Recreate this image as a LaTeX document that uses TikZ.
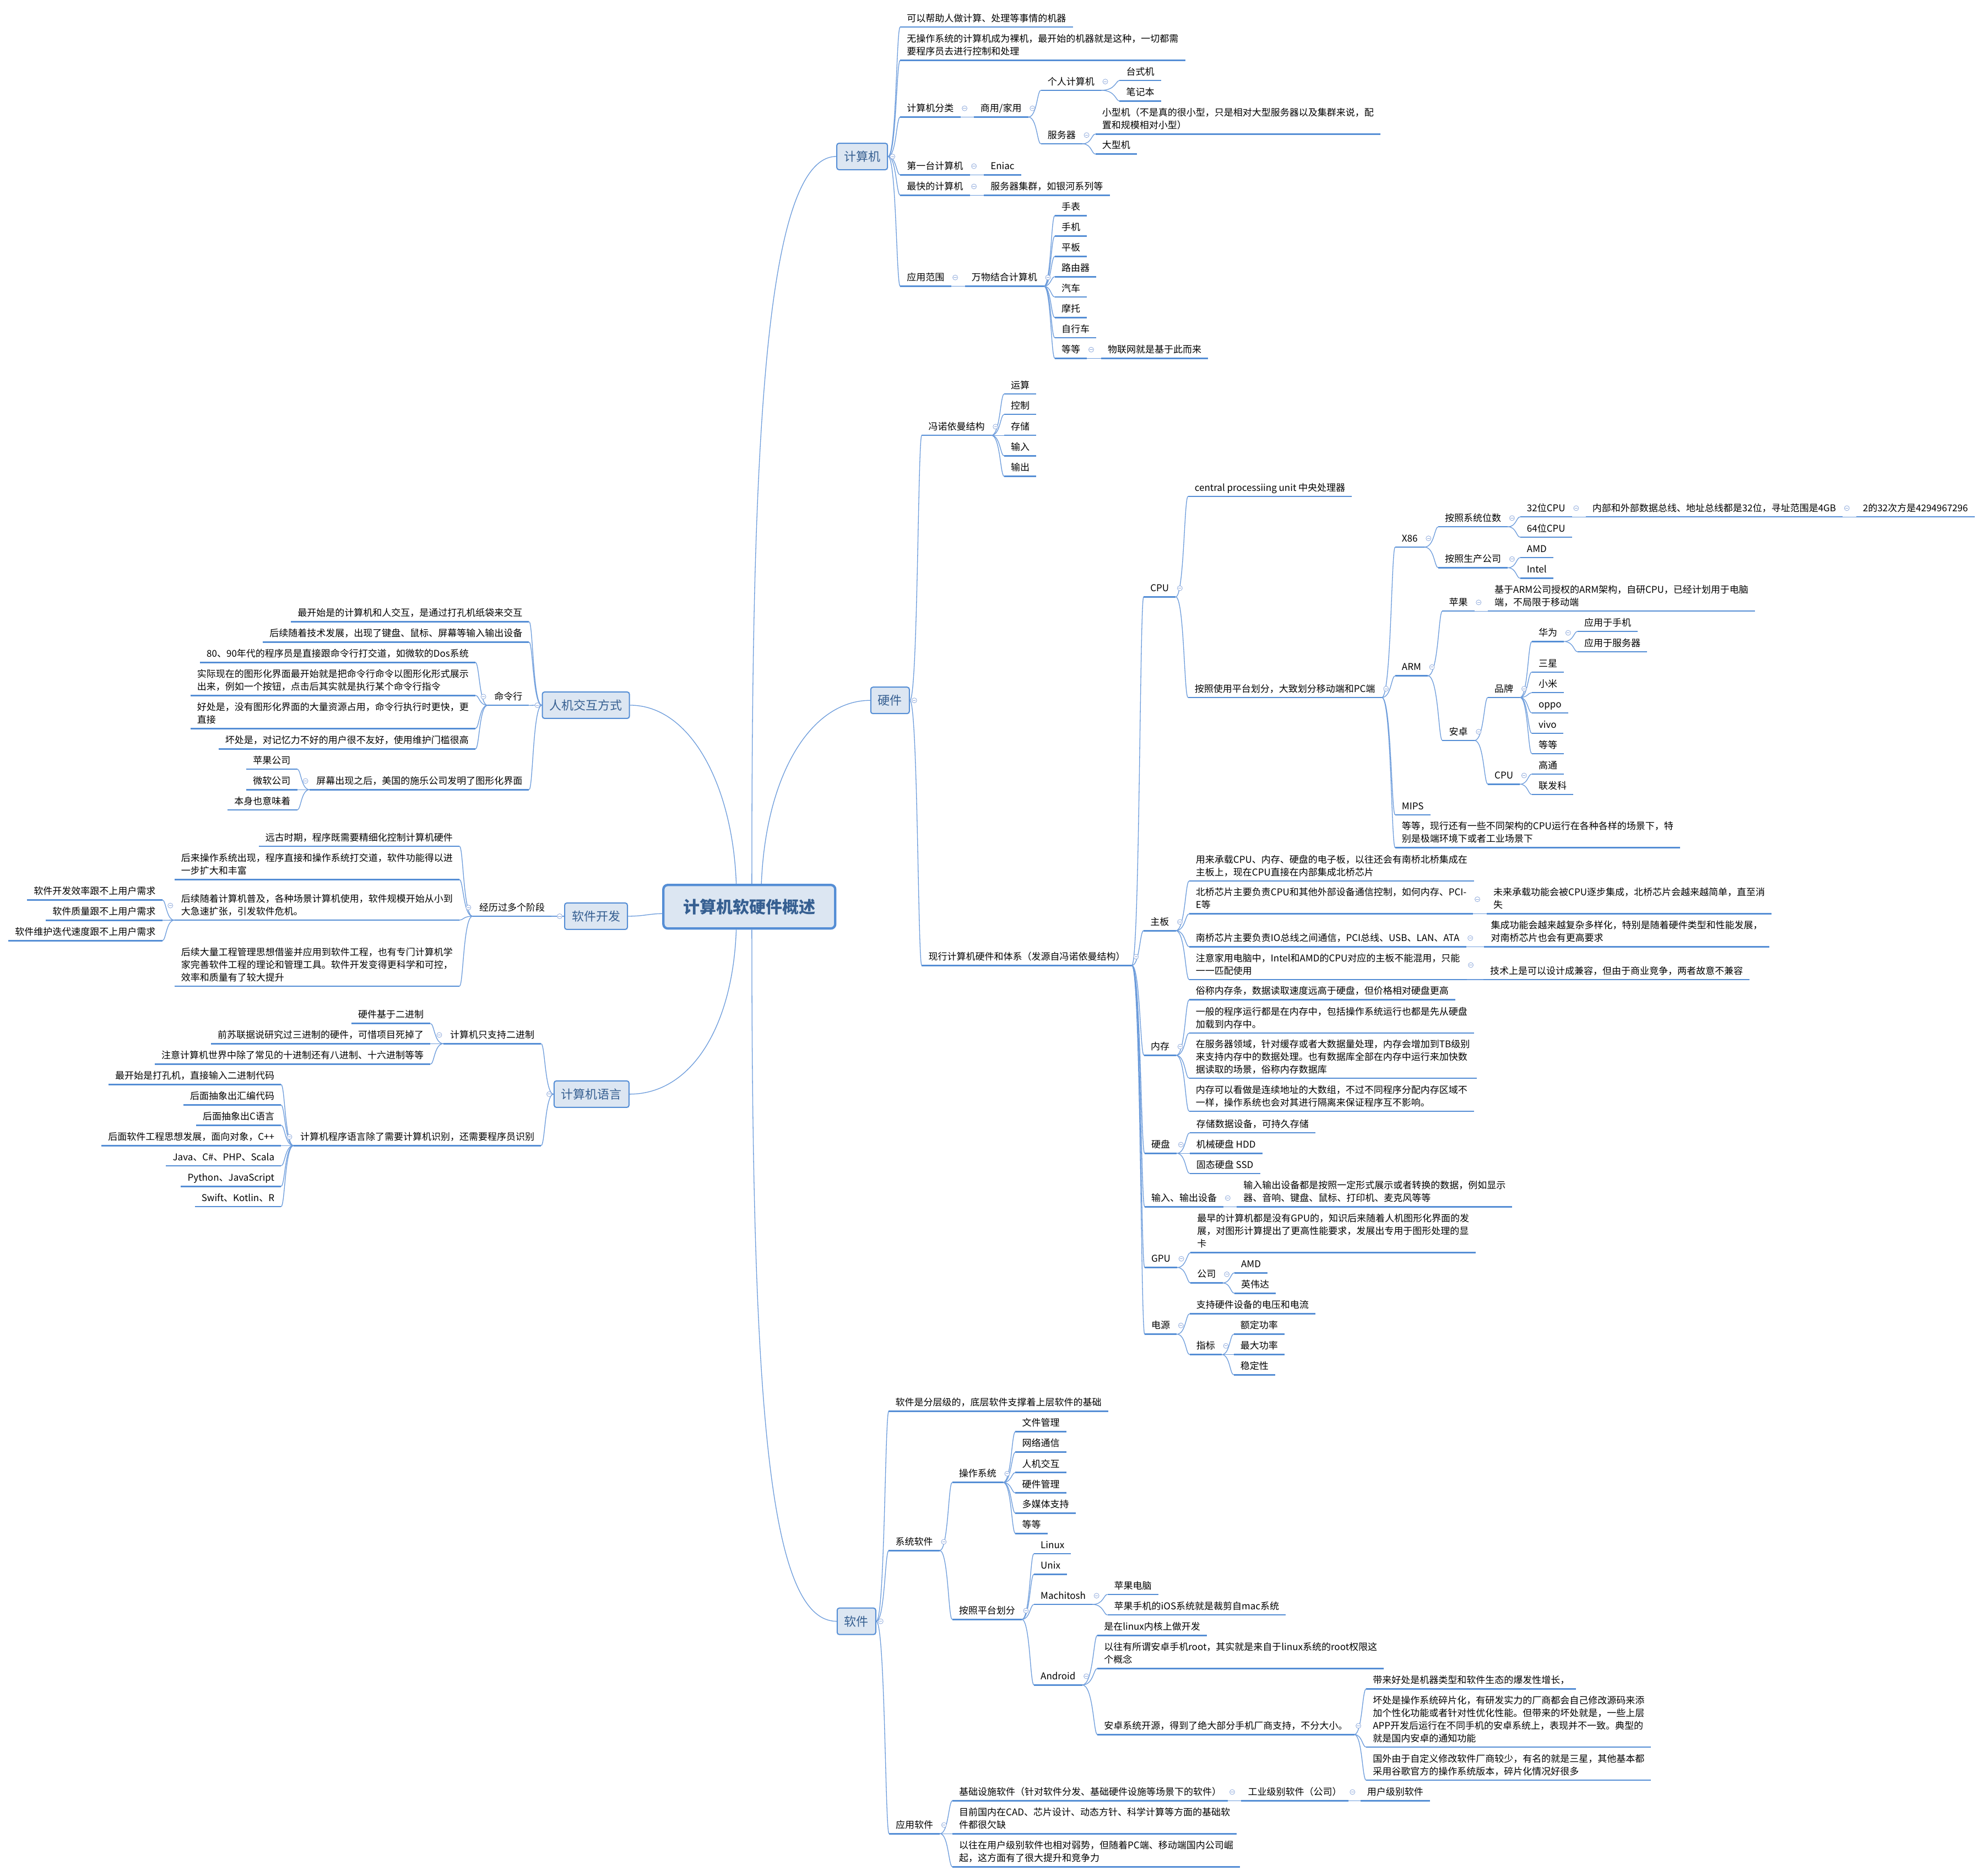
\documentclass[tikz,border=0pt]{standalone}
\usepackage{fontspec}
\setmainfont{Noto Sans CJK SC}
\usetikzlibrary{calc}
\definecolor{ul}{HTML}{558ED5}
\definecolor{cn}{HTML}{6B9BDB}
\definecolor{bx}{HTML}{DCE6F2}
\definecolor{tx}{HTML}{365F91}
\definecolor{mkc}{HTML}{8FAADC}
\tikzset{
  basenode/.style={font=\fontsize{17}{23}\selectfont, inner xsep=12pt, inner ysep=2.6pt, align=left, execute at end node=\strut,
    append after command={(\tikzlastnode.south west) edge[draw=ul, line width=2.6pt] (\tikzlastnode.south east)}},
  rn/.style={basenode, anchor=south west},
  ln/.style={basenode, anchor=south east},
  conn/.style={draw=cn, line width=1.3pt},
  topbox/.style={draw=ul, line width=2pt, fill=bx, rounded corners=4pt, text=tx, font=\fontsize{22}{26}\selectfont, minimum height=48pt, inner xsep=13pt, inner ysep=0pt},
  rootbox/.style={draw=ul, line width=4.3pt, fill=bx, rounded corners=8pt, text=tx, font=\fontsize{30}{34}\selectfont\bfseries, minimum width=312pt, minimum height=79pt},
  mk/.style={circle, draw=mkc, fill=white, line width=0.8pt, minimum size=9pt, inner sep=0pt,
    path picture={\draw[mkc, line width=0.8pt] ([xshift=-2.6pt]path picture bounding box.center) -- ([xshift=2.6pt]path picture bounding box.center);}},
}
\newcommand\rnode[4]{\node[rn] (#1) at (#2,#3) {#4};}
\newcommand\lnode[4]{\node[ln] (#1) at (#2,#3) {#4};}
\newcommand\rcons[3][south east]{\foreach \ch in {#3}{\draw[conn] let \p1=(#2.#1), \p2=(\ch.south west) in (\p1) .. controls (\x2-7pt,\y1) and (\x2-7pt,\y2) .. (\p2);}}
\newcommand\lcons[3][south west]{\foreach \ch in {#3}{\draw[conn] let \p1=(#2.#1), \p2=(\ch.south east) in (\p1) .. controls (\x2+7pt,\y1) and (\x2+7pt,\y2) .. (\p2);}}
\newcommand\rmark[1]{\foreach \ch in {#1}{\node[mk] at ([shift={(7.5pt,1.5pt)}]\ch.east) {};}}
\newcommand\lmark[1]{\foreach \ch in {#1}{\node[mk] at ([shift={(-7.5pt,1.5pt)}]\ch.west) {};}}
\begin{document}
\begin{tikzpicture}[x=2.3017pt,y=-2.3017pt]
\fill[white] (0,0) rectangle (1568,1479.3);
\useasboundingbox (0,0) rectangle (1568,1479.3);

% ---------- root and main boxes ----------
\node[rootbox] (root) at (591,715) {计算机软硬件概述};
\node[topbox] (c1) at (680,123.4) {计算机};
\node[topbox] (hw) at (702,552.3) {硬件};
\node[topbox] (sw) at (675.5,1278.5) {软件};
\node[topbox] (hm) at (462.1,556.1) {人机交互方式};
\node[topbox] (rd) at (470.1,722.5) {软件开发};
\node[topbox] (yy) at (466.6,862.8) {计算机语言};

\draw[conn] ([xshift=4.6pt]root.north) .. controls (593,380) and (600,123.4) .. (c1.west);
\draw[conn] ([xshift=21.9pt]root.north) .. controls (604,610) and (640,552.3) .. (hw.west);
\draw[conn] ([xshift=-23.7pt]root.north) .. controls (578,620) and (545,556.1) .. (hm.east);
\draw[conn] ([yshift=-12.6pt]root.west) .. controls (512,720.5) and (508,722.5) .. (rd.east);
\draw[conn] ([xshift=-23.7pt]root.south) .. controls (578,810) and (545,862.8) .. (yy.east);
\draw[conn] ([xshift=4.6pt]root.south) .. controls (593,1100) and (605,1278.5) .. (sw.west);

% ---------- 计算机 ----------
\rnode{c1a}{710}{21.3}{可以帮助人做计算、处理等事情的机器}
\rnode{c1b}{710}{47.5}{无操作系统的计算机成为裸机，最开始的机器就是这种，一切都需\\要程序员去进行控制和处理}
\rnode{c1c}{710}{92.3}{计算机分类}
\rnode{c1c1}{768}{92.3}{商用/家用}
\rnode{c1c1a}{821}{71.2}{个人计算机}
\rnode{c1c1a1}{883}{63.5}{台式机}
\rnode{c1c1a2}{883}{79.7}{笔记本}
\rnode{c1c1b}{821}{113.4}{服务器}
\rnode{c1c1b1}{864}{105.7}{小型机（不是真的很小型，只是相对大型服务器以及集群来说，配\\置和规模相对小型）}
\rnode{c1c1b2}{864}{121.5}{大型机}
\rnode{c1d}{710}{137.9}{第一台计算机}
\rnode{c1d1}{776}{137.9}{Eniac}
\rnode{c1e}{710}{153.9}{最快的计算机}
\rnode{c1e1}{776}{153.9}{服务器集群，如银河系列等}
\rnode{c1f}{710}{225.7}{应用范围}
\rnode{c1f1}{761}{225.7}{万物结合计算机}
\rnode{c1f1a}{832}{170}{手表}
\rnode{c1f1b}{832}{186.2}{手机}
\rnode{c1f1c}{832}{202.2}{平板}
\rnode{c1f1d}{832}{218.2}{路由器}
\rnode{c1f1e}{832}{234.2}{汽车}
\rnode{c1f1f}{832}{250.4}{摩托}
\rnode{c1f1g}{832}{266.4}{自行车}
\rnode{c1f1h}{832}{282.6}{等等}
\rnode{c1f1h1}{868.5}{282.6}{物联网就是基于此而来}

\rcons[east]{c1}{c1a,c1b,c1c,c1d,c1e,c1f}
\rcons{c1c}{c1c1}
\rcons{c1c1}{c1c1a,c1c1b}
\rcons{c1c1a}{c1c1a1,c1c1a2}
\rcons{c1c1b}{c1c1b1,c1c1b2}
\rcons{c1d}{c1d1}
\rcons{c1e}{c1e1}
\rcons{c1f}{c1f1}
\rcons{c1f1}{c1f1a,c1f1b,c1f1c,c1f1d,c1f1e,c1f1f,c1f1g,c1f1h}
\rcons{c1f1h}{c1f1h1}

% ---------- 硬件 ----------
\rnode{h1}{727}{343.3}{冯诺依曼结构}
\rnode{h1a}{792}{310.7}{运算}
\rnode{h1b}{792}{326.8}{控制}
\rnode{h1c}{792}{343.3}{存储}
\rnode{h1d}{792}{359.5}{输入}
\rnode{h1e}{792}{375.6}{输出}
\rnode{h2}{727}{761.3}{现行计算机硬件和体系（发源自冯诺依曼结构）}
\rnode{cpu}{902}{470.7}{CPU}
\rnode{cpu1}{937}{391.5}{central processiing unit 中央处理器}
\rnode{cpu2}{937}{550}{按照使用平台划分，大致划分移动端和PC端}
\rnode{x86}{1100.4}{431.4}{X86}
\rnode{x86a}{1134.4}{415.4}{按照系统位数}
\rnode{b32}{1199}{407.6}{32位CPU}
\rnode{b32a}{1250.7}{407.6}{内部和外部数据总线、地址总线都是32位，寻址范围是4GB}
\rnode{b32b}{1464}{407.6}{2的32次方是4294967296}
\rnode{b64}{1199}{423.6}{64位CPU}
\rnode{x86b}{1134.4}{447.7}{按照生产公司}
\rnode{amdx}{1199}{439.7}{AMD}
\rnode{intel}{1199}{456}{Intel}
\rnode{arm}{1100.4}{532.9}{ARM}
\rnode{apple}{1137.6}{481.9}{苹果}
\rnode{apple1}{1173.5}{481.9}{基于ARM公司授权的ARM架构，自研CPU，已经计划用于电脑\\端，不局限于移动端}
\rnode{aand}{1137.6}{583.9}{安卓}
\rnode{brand}{1173.5}{550}{品牌}
\rnode{hwei}{1208.2}{505.9}{华为}
\rnode{hweia}{1244.3}{497.9}{应用于手机}
\rnode{hweib}{1244.3}{514}{应用于服务器}
\rnode{sams}{1208.2}{530}{三星}
\rnode{xmi}{1208.2}{546.2}{小米}
\rnode{oppo}{1208.2}{562.2}{oppo}
\rnode{vivo}{1208.2}{578.3}{vivo}
\rnode{bdd}{1208.2}{594.3}{等等}
\rnode{acpu}{1173.5}{618.4}{CPU}
\rnode{qc}{1208.2}{610.4}{高通}
\rnode{mtk}{1208.2}{626.5}{联发科}
\rnode{mips}{1100.4}{642.6}{MIPS}
\rnode{oth}{1100.4}{668.5}{等等，现行还有一些不同架构的CPU运行在各种各样的场景下，特\\别是极端环境下或者工业场景下}
\rnode{mb}{902}{733.9}{主板}
\rnode{mb1}{937.9}{694.7}{用来承载CPU、内存、硬盘的电子板，以往还会有南桥北桥集成在\\主板上，现在CPU直接在内部集成北桥芯片}
\rnode{mb2}{937.9}{720.6}{北桥芯片主要负责CPU和其他外部设备通信控制，如何内存、PCI-\\E等}
\rnode{mb2a}{1172.6}{720.6}{未来承载功能会被CPU逐步集成，北桥芯片会越来越简单，直至消\\失}
\rnode{mb3}{937.9}{746.6}{南桥芯片主要负责IO总线之间通信，PCI总线、USB、LAN、ATA}
\rnode{mb3a}{1170.6}{746.6}{集成功能会越来越复杂多样化，特别是随着硬件类型和性能发展，\\对南桥芯片也会有更高要求}
\rnode{mb4}{937.9}{772.5}{注意家用电脑中，Intel和AMD的CPU对应的主板不能混用，只能\\一一匹配使用}
\rnode{mb4a}{1170}{772.5}{技术上是可以设计成兼容，但由于商业竞争，两者故意不兼容}
\rnode{mem}{902.3}{832.2}{内存}
\rnode{mem1}{937.9}{788.4}{俗称内存条，数据读取速度远高于硬盘，但价格相对硬盘更高}
\rnode{mem2}{937.9}{814.6}{一般的程序运行都是在内存中，包括操作系统运行也都是先从硬盘\\加载到内存中。}
\rnode{mem3}{937.9}{850.3}{在服务器领域，针对缓存或者大数据量处理，内存会增加到TB级别\\来支持内存中的数据处理。也有数据库全部在内存中运行来加快数\\据读取的场景，俗称内存数据库}
\rnode{mem4}{937.9}{876.3}{内存可以看做是连续地址的大数组，不过不同程序分配内存区域不\\一样，操作系统也会对其进行隔离来保证程序互不影响。}
\rnode{hd}{902.8}{909.5}{硬盘}
\rnode{hd1}{938.3}{893.3}{存储数据设备，可持久存储}
\rnode{hd2}{938.3}{909.5}{机械硬盘 HDD}
\rnode{hd3}{938.3}{925.4}{固态硬盘 SSD}
\rnode{io}{902.8}{951.6}{输入、输出设备}
\rnode{io1}{975.4}{951.6}{输入输出设备都是按照一定形式展示或者转换的数据，例如显示\\器、音响、键盘、鼠标、打印机、麦克风等等}
\rnode{gpu}{902.8}{999.5}{GPU}
\rnode{gpu1}{939}{987.8}{最早的计算机都是没有GPU的，知识后来随着人机图形化界面的发\\展，对图形计算提出了更高性能要求，发展出专用于图形处理的显\\卡}
\rnode{gco}{939}{1011.7}{公司}
\rnode{gamd}{973.6}{1003.7}{AMD}
\rnode{gnv}{973.6}{1019.8}{英伟达}
\rnode{pw}{902.8}{1052.1}{电源}
\rnode{pw1}{938.3}{1036}{支持硬件设备的电压和电流}
\rnode{pwi}{938.3}{1068.2}{指标}
\rnode{pwa}{973.1}{1052.1}{额定功率}
\rnode{pwb}{973.1}{1068.2}{最大功率}
\rnode{pwc}{973.1}{1084.1}{稳定性}

\rcons[east]{hw}{h1,h2}
\rcons{h1}{h1a,h1b,h1c,h1d,h1e}
\rcons{h2}{cpu,mb,mem,hd,io,gpu,pw}
\rcons{cpu}{cpu1,cpu2}
\rcons{cpu2}{x86,arm,mips,oth}
\rcons{x86}{x86a,x86b}
\rcons{x86a}{b32,b64}
\rcons{b32}{b32a}
\rcons{b32a}{b32b}
\rcons{x86b}{amdx,intel}
\rcons{arm}{apple,aand}
\rcons{apple}{apple1}
\rcons{aand}{brand,acpu}
\rcons{brand}{hwei,sams,xmi,oppo,vivo,bdd}
\rcons{hwei}{hweia,hweib}
\rcons{acpu}{qc,mtk}
\rcons{mb}{mb1,mb2,mb3,mb4}
\rcons{mb2}{mb2a}
\rcons{mb3}{mb3a}
\rcons{mb4}{mb4a}
\rcons{mem}{mem1,mem2,mem3,mem4}
\rcons{hd}{hd1,hd2,hd3}
\rcons{io}{io1}
\rcons{gpu}{gpu1,gco}
\rcons{gco}{gamd,gnv}
\rcons{pw}{pw1,pwi}
\rcons{pwi}{pwa,pwb,pwc}

% ---------- 软件 ----------
\rnode{s1}{701}{1112.8}{软件是分层级的，底层软件支撑着上层软件的基础}
\rnode{s2}{701}{1222.7}{系统软件}
\rnode{os}{751}{1169}{操作系统}
\rnode{osa}{800.9}{1128.9}{文件管理}
\rnode{osb}{800.9}{1145.1}{网络通信}
\rnode{osc}{800.9}{1161.2}{人机交互}
\rnode{osd}{800.9}{1177.3}{硬件管理}
\rnode{ose}{800.9}{1193.3}{多媒体支持}
\rnode{osf}{800.9}{1209.3}{等等}
\rnode{pf}{751}{1277}{按照平台划分}
\rnode{lx}{815.5}{1225.2}{Linux}
\rnode{unx}{815.5}{1241.4}{Unix}
\rnode{mac}{815.5}{1265.2}{Machitosh}
\rnode{maca}{873.5}{1257.3}{苹果电脑}
\rnode{macb}{873.5}{1273.5}{苹果手机的iOS系统就是裁剪自mac系统}
\rnode{droid}{815.5}{1328.7}{Android}
\rnode{droida}{865.5}{1289.6}{是在linux内核上做开发}
\rnode{droidb}{865.5}{1315.7}{以往有所谓安卓手机root，其实就是来自于linux系统的root权限这\\个概念}
\rnode{droidc}{865.5}{1367.8}{安卓系统开源，得到了绝大部分手机厂商支持，不分大小。}
\rnode{droidc1}{1077.5}{1331.8}{带来好处是机器类型和软件生态的爆发性增长，}
\rnode{droidc2}{1077.5}{1377.7}{坏处是操作系统碎片化，有研发实力的厂商都会自己修改源码来添\\加个性化功能或者针对性优化性能。但带来的坏处就是，一些上层\\APP开发后运行在不同手机的安卓系统上，表现并不一致。典型的\\就是国内安卓的通知功能}
\rnode{droidc3}{1077.5}{1403.8}{国外由于自定义修改软件厂商较少，有名的就是三星，其他基本都\\采用谷歌官方的操作系统版本，碎片化情况好很多}
\rnode{s3}{701.2}{1446}{应用软件}
\rnode{ap1}{751.2}{1420}{基础设施软件（针对软件分发、基础硬件设施等场景下的软件）}
\rnode{ap1a}{979}{1420}{工业级别软件（公司）}
\rnode{ap1b}{1073}{1420}{用户级别软件}
\rnode{ap2}{751.2}{1446}{目前国内在CAD、芯片设计、动态方针、科学计算等方面的基础软\\件都很欠缺}
\rnode{ap3}{751.2}{1472.1}{以往在用户级别软件也相对弱势，但随着PC端、移动端国内公司崛\\起，这方面有了很大提升和竞争力}

\rcons[east]{sw}{s1,s2,s3}
\rcons{s2}{os,pf}
\rcons{os}{osa,osb,osc,osd,ose,osf}
\rcons{pf}{lx,unx,mac,droid}
\rcons{mac}{maca,macb}
\rcons{droid}{droida,droidb,droidc}
\rcons{droidc}{droidc1,droidc2,droidc3}
\rcons{s3}{ap1,ap2,ap3}
\rcons{ap1}{ap1a}
\rcons{ap1a}{ap1b}

% ---------- 人机交互方式 ----------
\lnode{m1}{417.3}{490.2}{最开始是的计算机和人交互，是通过打孔机纸袋来交互}
\lnode{m2}{417.3}{506.3}{后续随着技术发展，出现了键盘、鼠标、屏幕等输入输出设备}
\lnode{m3}{417.3}{556.2}{命令行}
\lnode{m3a}{375}{522.4}{80、90年代的程序员是直接跟命令行打交道，如微软的Dos系统}
\lnode{m3b}{375}{548.4}{实际现在的图形化界面最开始就是把命令行命令以图形化形式展示\\出来，例如一个按钮，点击后其实就是执行某个命令行指令}
\lnode{m3c}{375}{574.5}{好处是，没有图形化界面的大量资源占用，命令行执行时更快，更\\直接}
\lnode{m3d}{375}{590.6}{坏处是，对记忆力不好的用户很不友好，使用维护门槛很高}
\lnode{m4}{417.3}{622.7}{屏幕出现之后，美国的施乐公司发明了图形化界面}
\lnode{m4a}{234.4}{606.5}{苹果公司}
\lnode{m4b}{234.4}{622.7}{微软公司}
\lnode{m4c}{234.4}{638.7}{本身也意味着}

\lcons[west]{hm}{m1,m2,m3,m4}
\lcons{m3}{m3a,m3b,m3c,m3d}
\lcons{m4}{m4a,m4b,m4c}

% ---------- 软件开发 ----------
\lnode{d1}{435}{722.5}{经历过多个阶段}
\lnode{d1a}{362.4}{667.3}{远古时期，程序既需要精细化控制计算机硬件}
\lnode{d1b}{362.4}{693.7}{后来操作系统出现，程序直接和操作系统打交道，软件功能得以进\\一步扩大和丰富}
\lnode{d1c}{362.4}{725.6}{后续随着计算机普及，各种场景计算机使用，软件规模开始从小到\\大急速扩张，引发软件危机。}
\lnode{d1c1}{128}{709.6}{软件开发效率跟不上用户需求}
\lnode{d1c2}{128}{725.7}{软件质量跟不上用户需求}
\lnode{d1c3}{128}{741.8}{软件维护迭代速度跟不上用户需求}
\lnode{d1d}{362.4}{777.7}{后续大量工程管理思想借鉴并应用到软件工程，也有专门计算机学\\家完善软件工程的理论和管理工具。软件开发变得更科学和可控，\\效率和质量有了较大提升}

\lcons[west]{rd}{d1}
\lcons{d1}{d1a,d1b,d1c,d1d}
\lcons{d1c}{d1c1,d1c2,d1c3}

% ---------- 计算机语言 ----------
\lnode{y1}{426.8}{823}{计算机只支持二进制}
\lnode{y1a}{339.5}{807.1}{硬件基于二进制}
\lnode{y1b}{339.5}{823}{前苏联据说研究过三进制的硬件，可惜项目死掉了}
\lnode{y1c}{339.5}{839.2}{注意计算机世界中除了常见的十进制还有八进制、十六进制等等}
\lnode{y2}{426.8}{903.4}{计算机程序语言除了需要计算机识别，还需要程序员识别}
\lnode{y2a}{221.7}{855.2}{最开始是打孔机，直接输入二进制代码}
\lnode{y2b}{221.7}{871.4}{后面抽象出汇编代码}
\lnode{y2c}{221.7}{887.3}{后面抽象出C语言}
\lnode{y2d}{221.7}{903.4}{后面软件工程思想发展，面向对象，C++}
\lnode{y2e}{221.7}{919.3}{Java、C\#、PHP、Scala}
\lnode{y2f}{221.7}{935.5}{Python、JavaScript}
\lnode{y2g}{221.7}{951.5}{Swift、Kotlin、R}

\lcons[west]{yy}{y1,y2}
\lcons{y1}{y1a,y1b,y1c}
\lcons{y2}{y2a,y2b,y2c,y2d,y2e,y2f,y2g}

% ---------- collapse markers ----------
\node[mk] at ([xshift=8pt]c1.east) {};
\node[mk] at ([xshift=8pt]hw.east) {};
\node[mk] at ([xshift=8pt]sw.east) {};
\node[mk] at ([xshift=-8pt]hm.west) {};
\node[mk] at ([xshift=-8pt]rd.west) {};
\node[mk] at ([xshift=-8pt]yy.west) {};
\rmark{c1c,c1c1,c1c1a,c1c1b,c1d,c1e,c1f,c1f1,c1f1h}
\rmark{h1,h2,cpu,cpu2,x86,x86a,b32,b32a,x86b,arm,apple,aand,brand,hwei,acpu}
\rmark{mb,mb2,mb3,mb4,mem,hd,io,gpu,gco,pw,pwi}
\rmark{s2,os,pf,mac,droid,droidc,s3,ap1,ap1a}
\lmark{m3,m4,d1,d1c,y1,y2}
\end{tikzpicture}
\end{document}
